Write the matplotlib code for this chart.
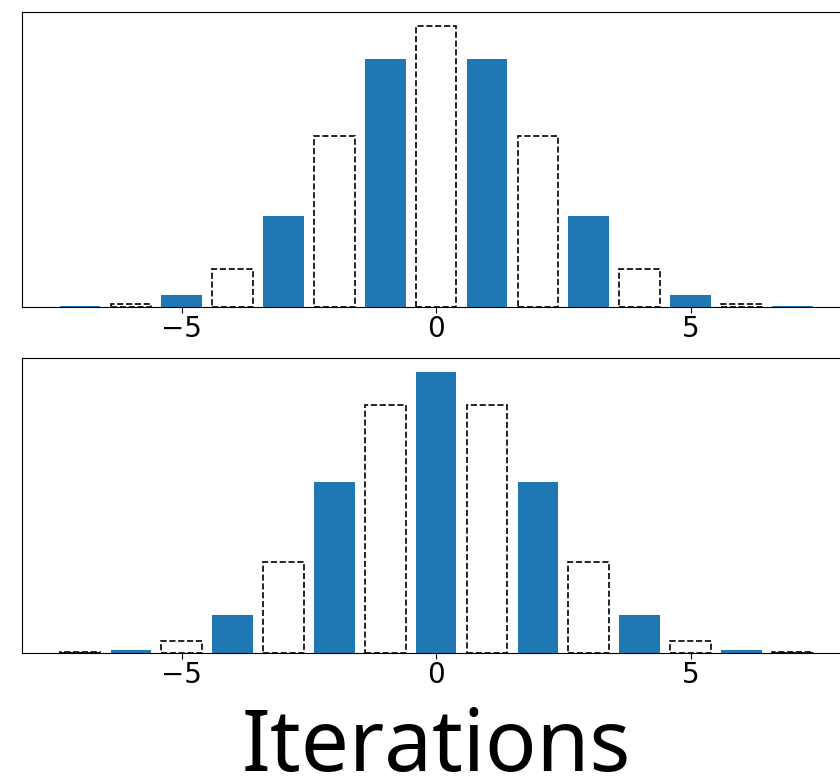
import matplotlib
matplotlib.use("Agg")
import matplotlib.pyplot as plt

# Site positions and occupation weights (normalised to the central peak)
positions = [-7, -6, -5, -4, -3, -2, -1, 0, 1, 2, 3, 4, 5, 6, 7]
weights = [0.002, 0.011, 0.044, 0.135, 0.325, 0.607, 0.882, 1.0,
           0.882, 0.607, 0.325, 0.135, 0.044, 0.011, 0.002]
xticks = [-5, 0, 5]
xlabel = "Iterations"

fig = plt.figure(figsize=(8.4, 7.79), dpi=100)
ax_top = fig.add_axes([0.0262, 0.6059, 0.9860, 0.3787])
ax_bot = fig.add_axes([0.0262, 0.1617, 0.9860, 0.3787])


def draw(ax, filled_parity):
    filled_x = [p for p in positions if p % 2 == filled_parity]
    filled_h = [w for p, w in zip(positions, weights) if p % 2 == filled_parity]
    open_x = [p for p in positions if p % 2 != filled_parity]
    open_h = [w for p, w in zip(positions, weights) if p % 2 != filled_parity]
    ax.bar(filled_x, filled_h, width=0.8, color="#1f77b4")
    ax.bar(open_x, open_h, width=0.8, facecolor="white", edgecolor="black",
           linestyle="--", linewidth=1.2)
    ax.set_yticks([])
    ax.set_xticks(xticks)
    ax.set_xticklabels([f"{t}".replace("-", "\u2212") for t in xticks],
                       fontsize=20, family="DejaVu Sans")
    ax.tick_params(axis="x", length=4, pad=2)


draw(ax_top, 1)
draw(ax_bot, 0)
ax_bot.set_xlabel(xlabel, fontsize=61.5, family="Noto Sans", labelpad=12)

fig.savefig("out.png", dpi=100)
